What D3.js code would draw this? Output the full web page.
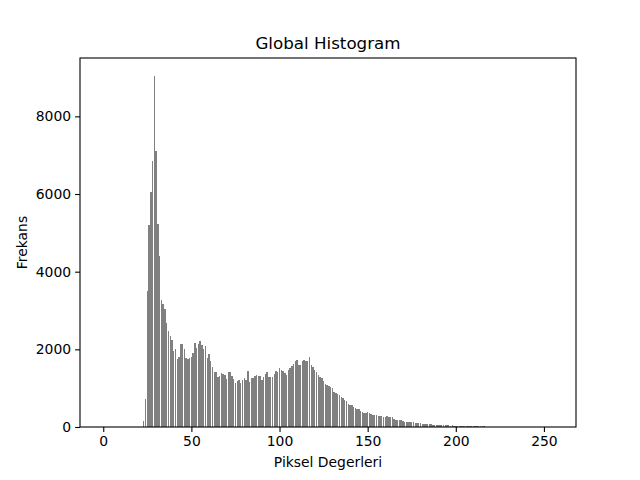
<!DOCTYPE html>
<html><head><meta charset="utf-8">
<script src="https://cdn.jsdelivr.net/npm/d3@7"></script>
<style>body{margin:0;background:#fff}svg{display:block}text{font-family:"DejaVu Sans",sans-serif}</style>
</head><body><svg id="c" width="640" height="480"></svg>
<script>
const title = "Global Histogram";
const xLabel = "Piksel Degerleri";
const yLabel = "Frekans";
const xTicks = [0, 50, 100, 150, 200, 250];
const yTicks = [0, 2000, 4000, 6000, 8000];
const firstBin = 0;
// Frequencies for pixel values 0..255
const freq = [
0,0,0,0,0,0,0,0,0,0,0,0,0,0,0,0,0,0,0,0,0,0,0,
150,720,3500,5210,6040,6850,9050,7100,5220,4400,3270,3160,3050,2670,2480,2340,2240,1955,2020,1750,1810,2135,2150,2020,1780,1750,1780,
1790,1900,2160,2030,2130,2210,2100,2000,2080,1775,1880,1700,1535,1415,1415,1290,1310,1390,1355,1340,1240,1415,1415,1310,1235,1130,1190,1215,1130,1200,
1270,1220,1440,1160,1260,1260,1310,1330,1320,1320,1210,1290,1370,1405,1300,1280,1286,1370,1440,1420,1517,1466,1440,1400,1337,1475,1526,1569,1620,1697,
1715,1600,1595,1690,1715,1697,1700,1800,1603,1552,1470,1415,1330,1280,1270,1180,1110,1090,1060,1020,1010,890,880,850,820,780,740,700,660,600,
570,560,520,480,470,460,400,380,370,370,385,350,330,310,310,300,285,280,275,260,250,280,250,250,255,200,185,180,180,180,
155,140,140,135,130,130,120,110,105,100,100,90,85,85,70,68,65,60,55,52,50,48,50,45,40,45,40,35,40,30,
35,30,32,28,30,25,28,22,25,20,22,18,20,15,18,14,15,12,10,12,8,10,6,8,10,5,4,6,3,4,
3,8,2,2,3,2,8,1,0,0,0,0,0,0,0,0,0,0,0,0,0,0,0,0,0,0
];
const bins = freq.map((v, i) => ({x: firstBin + i, v}));

const L = 80, R = 576, T = 58, B = 427;
const svg = d3.select("#c");
const xMin = -0.4, xMax = bins.length - 1 + 0.4;
const pad = (xMax - xMin) * 0.05;
const x = d3.scaleLinear().domain([xMin - pad, xMax + pad]).range([L, R]);
const yMax = d3.max(freq) * 1.05;
const y = d3.scaleLinear().domain([0, yMax]).range([B, T]);

svg.append("g").attr("shape-rendering", "crispEdges").selectAll("rect").data(bins).join("rect")
  .attr("x", d => x(d.x - 0.4))
  .attr("width", d => x(d.x + 0.4) - x(d.x - 0.4))
  .attr("y", d => y(d.v))
  .attr("height", d => B - y(d.v))
  .attr("fill", "#808080");

const xa = svg.append("g").attr("transform", `translate(0,${B})`)
  .call(d3.axisBottom(x).tickValues(xTicks).tickFormat(d3.format("d")).tickSizeOuter(0).tickSize(4.9).tickPadding(4));
const ya = svg.append("g").attr("transform", `translate(${L},0)`)
  .call(d3.axisLeft(y).tickValues(yTicks).tickFormat(d3.format("d")).tickSizeOuter(0).tickSize(4.9).tickPadding(4));
[xa, ya].forEach(a => {
  a.select(".domain").remove();
  a.selectAll("text").attr("font-size", 13.9).attr("fill", "#000").attr("font-family", "DejaVu Sans");
  a.selectAll("line").attr("stroke", "#000").attr("stroke-width", 1.1);
});
svg.append("rect").attr("x", L).attr("y", T).attr("width", R - L).attr("height", B - T)
  .attr("fill", "none").attr("stroke", "#000").attr("stroke-width", 1.1);

svg.append("text").attr("x", (L + R) / 2).attr("y", 49).attr("text-anchor", "middle")
  .attr("font-size", 16.7).text(title);
svg.append("text").attr("x", (L + R) / 2).attr("y", 467).attr("text-anchor", "middle")
  .attr("font-size", 13.9).text(xLabel);
svg.append("text").attr("transform", `translate(27,${(T + B) / 2}) rotate(-90)`).attr("text-anchor", "middle")
  .attr("font-size", 13.9).text(yLabel);
</script></body></html>
